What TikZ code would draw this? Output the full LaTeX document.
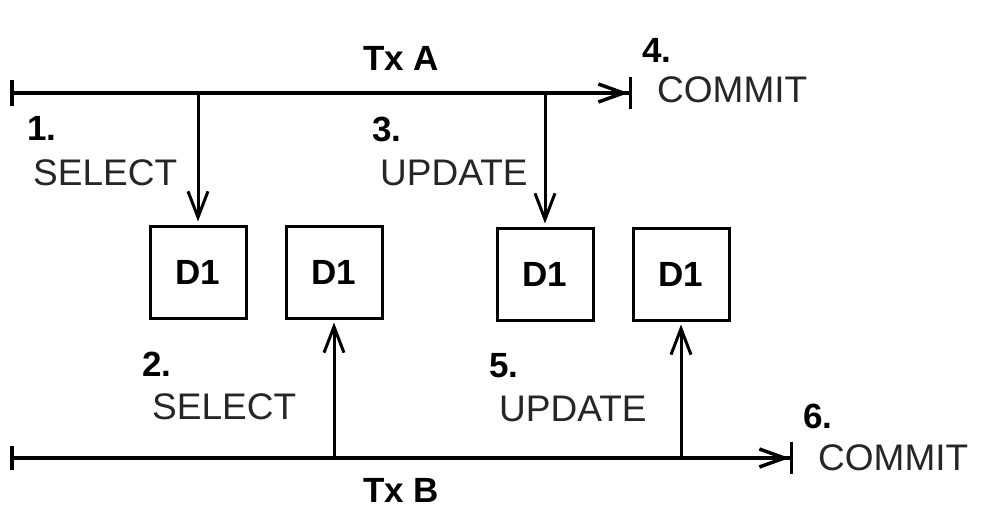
\documentclass[tikz,border=0pt]{standalone}
\usepackage{fontspec}
\setmainfont{Liberation Sans}
\usetikzlibrary{arrows.meta, positioning}

\begin{document}
\begin{tikzpicture}[
  x=1pt, y=-1pt,
  node distance=37pt,
  box/.style={draw, line width=3pt, minimum width=96pt, minimum height=92pt,
              inner sep=0pt, font=\fontsize{35}{40}\selectfont\bfseries},
  num/.style={anchor=west, inner sep=0pt, font=\fontsize{35}{40}\selectfont\bfseries},
  op/.style={anchor=west, inner sep=0pt, text=black!85, font=\fontsize{37}{44}\selectfont},
  tx/.style={inner sep=0pt, font=\fontsize{35}{40}\selectfont\bfseries},
  tl/.style={line width=3.5pt},
  arr/.style={line width=3pt, -{Straight Barb[length=26pt, width=20pt]}, shorten >=3pt}]
\useasboundingbox (0,0) rectangle (981,520);
% time lines
\coordinate (aL) at (10,93);
\coordinate (aR) at (632,93);
\coordinate (bL) at (10,458);
\coordinate (bR) at (793,458);
\node[tx] (txa) at (401,58) {Tx A};
\node[tx] (txb) at (401,490) {Tx B};
% data items
\node[box] (d1a) at (198,272) {D1};
\node[box, right=of d1a] (d1b) {D1};
\node[box] (d1c) at (545,274) {D1};
\node[box, right=of d1c] (d1d) {D1};
% steps
\node[num] (n1) at (27,128) {1.};
\node[op] (op1) at (33,173) {SELECT};
\node[num] (n2) at (142,364) {2.};
\node[op] (op2) at (152,407) {SELECT};
\node[num] (n3) at (372,129) {3.};
\node[op] (op3) at (380,173) {UPDATE};
\node[num] (n4) at (642,50) {4.};
\node[op] (op4) at (657,90) {COMMIT};
\node[num] (n5) at (489,366) {5.};
\node[op] (op5) at (499,409) {UPDATE};
\node[num] (n6) at (803,416) {6.};
\node[op] (op6) at (818,458) {COMMIT};
\draw[tl, {Bar[width=26pt]}-{Straight Barb[length=25pt, width=18pt] Bar[width=32pt]}] (aL) -- (aR);
\draw[tl, {Bar[width=24pt]}-{Straight Barb[length=25pt, width=18pt] Bar[width=32pt]}] (bL) -- (bR);
\draw[arr] (d1a |- aL) -- (d1a);
\draw[arr] (d1c |- aL) -- (d1c);
\draw[arr] (d1b |- bL) -- (d1b);
\draw[arr] (d1d |- bL) -- (d1d);
\end{tikzpicture}
\end{document}
